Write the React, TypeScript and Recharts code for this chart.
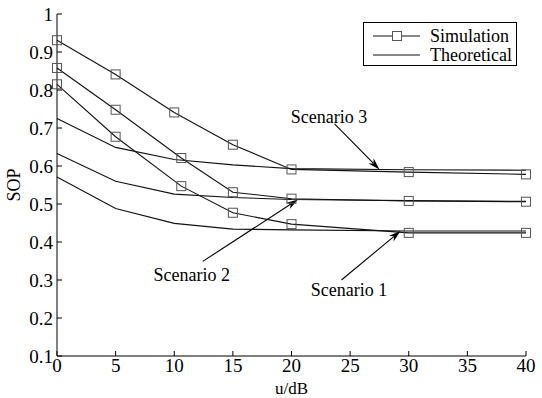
import React from "react"
import { LineChart, Line, XAxis, YAxis, ReferenceLine, ReferenceDot, Legend } from "recharts"

const FONT = '"Liberation Serif", "Times New Roman", serif'

// simulation results (square markers)
const uSim12 = [0, 5, 10.6, 15, 20, 30, 40]
const uSim3 = [0, 5, 10, 15, 20, 30, 40]
const sopSim1 = [0.815, 0.677, 0.547, 0.477, 0.447, 0.424, 0.424]
const sopSim2 = [0.858, 0.748, 0.621, 0.531, 0.514, 0.508, 0.506]
const sopSim3 = [0.931, 0.841, 0.741, 0.656, 0.591, 0.584, 0.578]

// theoretical curves
const uTheo = [0, 5, 10, 15, 20, 30, 40]
const sopTheo1 = [0.571, 0.488, 0.449, 0.434, 0.432, 0.429, 0.429]
const sopTheo2 = [0.633, 0.56, 0.526, 0.517, 0.512, 0.509, 0.507]
const sopTheo3 = [0.725, 0.649, 0.617, 0.603, 0.593, 0.59, 0.589]

const xTicks = [0, 5, 10, 15, 20, 25, 30, 35, 40]
const yTicks = [0.1, 0.2, 0.3, 0.4, 0.5, 0.6, 0.7, 0.8, 0.9, 1]

// annotation text centre, arrow tail and arrow head (data units)
const noteText = ["Scenario 1", "Scenario 2", "Scenario 3"]
const noteAt = [[24.9, 0.274], [11.5, 0.313], [23.2, 0.729]]
const noteFrom = [[24.26, 0.3], [12.43, 0.349], [23.67, 0.711]]
const noteTo = [[29.3, 0.429], [20.55, 0.512], [27.5, 0.591]]

const zip = (u: number[], s: number[]) => u.map((x, i) => ({ u: x, sop: s[i] }))

const sim = [zip(uSim12, sopSim1), zip(uSim12, sopSim2), zip(uSim3, sopSim3)]
const theo = [zip(uTheo, sopTheo1), zip(uTheo, sopTheo2), zip(uTheo, sopTheo3)]

const Square = (p: any) => {
  if (p.cx == null || p.cy == null) return <g key={p.index} />
  return (
    <rect key={p.index} x={p.cx - 4.5} y={p.cy - 4.5} width={9} height={9} fill="none" stroke="#555" strokeWidth={1} />
  )
}

const Arrow = (p: any) => {
  const { x1, y1, x2, y2 } = p
  const a = Math.atan2(y2 - y1, x2 - x1)
  const len = 12
  const half = 3.6
  const bx = x2 - len * Math.cos(a)
  const by = y2 - len * Math.sin(a)
  const nx = x2 - len * 0.7 * Math.cos(a)
  const ny = y2 - len * 0.7 * Math.sin(a)
  const px = -Math.sin(a) * half
  const py = Math.cos(a) * half
  return (
    <g>
      <line x1={x1} y1={y1} x2={nx} y2={ny} stroke="#000" strokeWidth={1.1} />
      <polygon points={`${x2},${y2} ${bx + px},${by + py} ${nx},${ny} ${bx - px},${by - py}`} fill="#000" />
    </g>
  )
}

const NoteText = (text: string) => (p: any) => (
  <text x={p.cx} y={p.cy} textAnchor="middle" dominantBaseline="central" fontSize={18} fontFamily={FONT} fill="#000">
    {text}
  </text>
)

const LegendBox = () => (
  <svg width={154} height={44} style={{ display: "block" }}>
    <rect x={0.5} y={0.5} width={153} height={43} fill="#fff" stroke="#000" />
    <line x1={10} y1={14} x2={57} y2={14} stroke="#111" />
    <rect x={29.5} y={9.5} width={9} height={9} fill="#fff" stroke="#555" />
    <text x={67} y={14} dominantBaseline="central" fontSize={18} fontFamily={FONT} fill="#000">Simulation</text>
    <line x1={10} y1={33} x2={57} y2={33} stroke="#111" />
    <text x={67} y={33} dominantBaseline="central" fontSize={18} fontFamily={FONT} fill="#000">Theoretical</text>
  </svg>
)

const tickStyle = { fontSize: 19, fontFamily: FONT, fill: "#000" }

export default function App() {
  return (
    <div style={{ position: "absolute", left: 0, top: 0, width: 542, height: 398, background: "#fff" }}>
      <LineChart width={542} height={398} margin={{ top: 14, right: 16, bottom: 0, left: 0 }}>
        <XAxis
          dataKey="u"
          type="number"
          domain={[0, 40]}
          ticks={xTicks}
          interval={0}
          height={42}
          tickSize={-5}
          tickMargin={8}
          stroke="#000"
          tick={tickStyle}
          label={{
            content: (p: any) => (
              <text x={p.viewBox.x + p.viewBox.width / 2} y={p.viewBox.y + 32.5} textAnchor="middle" dominantBaseline="central" fontSize={17} fontFamily={FONT} fill="#000">
                u/dB
              </text>
            ),
          }}
        />
        <XAxis xAxisId="top" orientation="top" type="number" dataKey="u" domain={[0, 40]} ticks={xTicks} interval={0} height={0} tickSize={-5} tick={false} stroke="#000" />
        <YAxis
          type="number"
          domain={[0.1, 1]}
          ticks={yTicks}
          interval={0}
          width={57}
          tickSize={-5}
          tickMargin={9}
          stroke="#000"
          tick={tickStyle}
          tickFormatter={(v: number) => (v === 1 ? "1" : v.toFixed(1))}
          label={{
            content: (p: any) => {
              const cx = p.viewBox.x + 14
              const cy = p.viewBox.y + p.viewBox.height / 2
              return (
                <text x={cx} y={cy} transform={`rotate(-90 ${cx} ${cy})`} textAnchor="middle" dominantBaseline="central" fontSize={18} fontFamily={FONT} fill="#000">
                  SOP
                </text>
              )
            },
          }}
        />
        <YAxis yAxisId="right" orientation="right" type="number" domain={[0.1, 1]} ticks={yTicks} interval={0} width={0} tickSize={-5} tick={false} stroke="#000" />

        {theo.map((d, i) => (
          <Line key={`t${i}`} data={d} dataKey="sop" type="linear" stroke="#111" strokeWidth={1.1} dot={false} activeDot={false} isAnimationActive={false} />
        ))}
        {sim.map((d, i) => (
          <Line key={`s${i}`} data={d} dataKey="sop" type="linear" stroke="#111" strokeWidth={1.1} dot={Square} activeDot={false} isAnimationActive={false} />
        ))}

        {noteText.map((t, i) => (
          <ReferenceLine
            key={`a${i}`}
            segment={[{ x: noteFrom[i][0], y: noteFrom[i][1] }, { x: noteTo[i][0], y: noteTo[i][1] }]}
            shape={Arrow}
          />
        ))}
        {noteText.map((t, i) => (
          <ReferenceDot key={`n${i}`} x={noteAt[i][0]} y={noteAt[i][1]} r={0} shape={NoteText(t)} />
        ))}

        <Legend
          layout="horizontal"
          verticalAlign="middle"
          align="center"
          wrapperStyle={{ top: 22, left: 363, width: 154, height: 44 }}
          content={() => <LegendBox />}
        />
      </LineChart>
    </div>
  )
}
